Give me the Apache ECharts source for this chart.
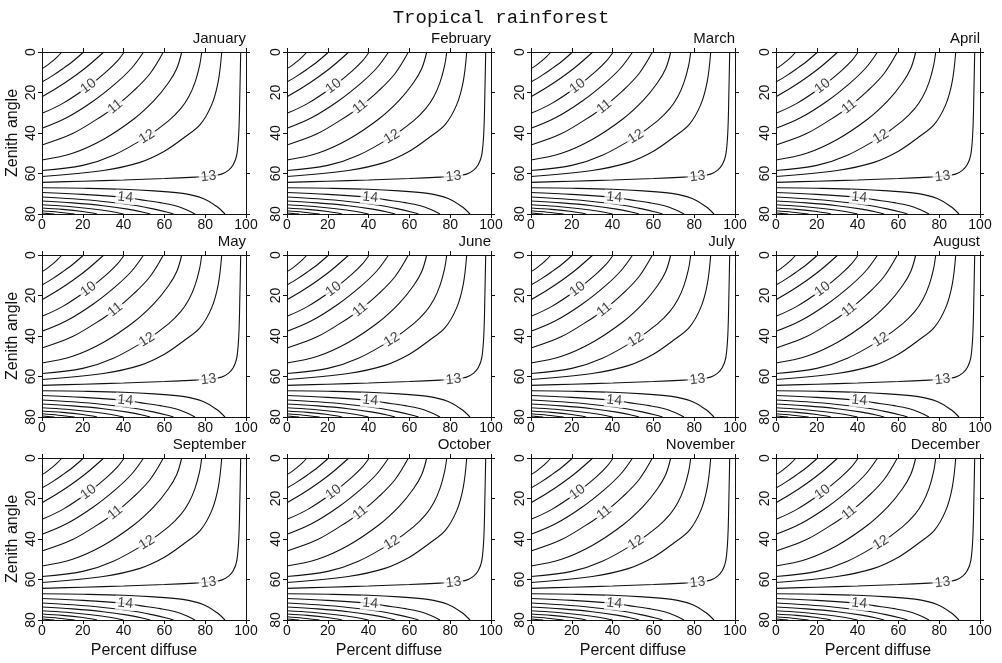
<!DOCTYPE html>
<html><head><meta charset="utf-8">
<script src="https://cdn.jsdelivr.net/npm/echarts@6/dist/echarts.min.js"></script>
<style>html,body{margin:0;padding:0;background:#fff}#c{width:1002px;height:663px}</style>
</head><body><div id="c"></div>
<script>
// ---------------- data ----------------
const chartTitle = 'Tropical rainforest';
const months = ['January','February','March','April','May','June','July','August','September','October','November','December'];
const xTitle = 'Percent diffuse';
const yTitle = 'Zenith angle';
const xTicks = [0, 20, 40, 60, 80, 100];
const yTicks = [0, 20, 40, 60, 80];

// contour lines, [percent diffuse, zenith angle]
const c8_5  = [[0,8.2],[2.5,6.6],[5,4.6],[7.5,2.4],[9.8,0]];
const c9    = [[0,14.8],[5,11.8],[10,8.4],[15,4.7],[20.4,0]];
const c9_5  = [[0,22.1],[8,17.3],[15,12.6],[22,7.3],[30.3,0]];
const c10   = [[0,30.3],[10,25.5],[22.8,16.9],[32,9.3],[37,4.4],[40.3,0]];
const c10_5 = [[0,37.7],[12,32.5],[25,24.3],[36,15.6],[44,7.9],[49.8,0]];
const c11   = [[0,45.9],[15,40.3],[30,31.2],[35.9,27],[45,19.1],[53,10.6],[59.5,0]];
const c11_5 = [[0,53.3],[15,50],[30,43.2],[45,33.1],[55,23.9],[62,15.2],[66,8.3],[68.5,0]];
const c12   = [[0,58.5],[20,56],[35,51],[51.4,41.8],[62,34],[68,28],[72,22],[75,15],[77.2,7],[78.3,0]];
const c12_5 = [[0,61.5],[30,58.5],[48,54.5],[60,49],[70,42],[77.5,35.9],[83.2,26],[86.4,14.5],[88.1,0]];
const c13   = [[0,64.4],[20,63.8],[40,63.2],[60,62.5],[75,61.8],[82,61.3],[88,60.3],[91.5,58.3],[93.8,55.6],[95.5,50.7],[96.5,39],[97,20],[97.4,0]];
const c13_5 = [[0,67],[20,67.3],[40,67.8],[55,68.6],[69,69.8],[79,72.3],[85.5,76.2],[89.7,80]];
const c14   = [[0,69.4],[20,70.3],[40.8,71.8],[48,72.9],[58,74.4],[65,75.8],[70.5,77.8],[75,80]];
const c14_5 = [[0,71.6],[15,72.5],[30,73.8],[45,75.7],[55,77.6],[61,79],[64.5,80]];
const c15   = [[0,73.6],[15,74.5],[30,75.9],[42,77.6],[49,79],[53,80]];
const c15_5 = [[0,75.4],[12,76.2],[24,77.4],[34,78.8],[40,80]];
const c16   = [[0,77],[10,77.7],[20,78.8],[27,80]];
const c16_5 = [[0,78.4],[8,79.1],[16,80]];
const c17   = [[0,79.5],[3,79.8],[6,80]];

const contours = [c8_5,c9,c9_5,c10,c10_5,c11,c11_5,c12,c12_5,c13,c13_5,c14,c14_5,c15,c15_5,c16,c16_5,c17];

// contour labels: text, the line it sits on, position along it
const labelTexts = ['10','11','12','13','14'];
const labelLines = [c10, c11, c12, c13, c14];
const labelPos = [[22.8,16.9],[35.9,27],[51.4,41.8],[81.6,61.5],[40.8,71.8]];

// ---------------- layout / style ----------------
const colLeft = [42, 287, 531, 776];
const rowTop = [52, 255, 458];
const GW = 204, GH = 162;
const FONT = '"Liberation Sans", Arial, Helvetica, sans-serif';
const INK = '#111';

// label rotation follows the local direction of its contour line
function labelAngle(line, p) {
  const xspan = xTicks[xTicks.length-1] - xTicks[0];
  const yspan = yTicks[yTicks.length-1] - yTicks[0];
  let k = 0, best = Infinity;
  line.forEach((q, j) => { const d = Math.hypot(q[0]-p[0], q[1]-p[1]); if (d < best) { best = d; k = j; } });
  const a = line[Math.max(k-1, 0)], b = line[Math.min(k+1, line.length-1)];
  const dxp = (b[0]-a[0]) / xspan * GW;
  const dyp = (b[1]-a[1]) / yspan * GH; // inverted axis: larger value is lower on screen
  return Math.atan2(-dyp, dxp) * 180 / Math.PI;
}

const grids = [], xAxes = [], yAxes = [], series = [], graphics = [];
months.forEach((m, i) => {
  const r = Math.floor(i/4), c = i % 4;
  grids.push({left: colLeft[c], top: rowTop[r], width: GW, height: GH});
  const axisLine = {show: true, onZero: false, lineStyle: {color: INK, width: 1}};
  const tick = {show: true, inside: false, length: 4, lineStyle: {color: INK, width: 1}};
  const xr = {type: 'value', min: xTicks[0], max: xTicks[xTicks.length-1], interval: xTicks[1]-xTicks[0], splitLine: {show: false}};
  const yr = {type: 'value', min: yTicks[0], max: yTicks[yTicks.length-1], interval: yTicks[1]-yTicks[0], inverse: true, splitLine: {show: false}};
  xAxes.push(Object.assign({}, xr, {gridIndex: i, position: 'bottom', axisLine, axisTick: tick,
    axisLabel: {fontSize: 14, color: INK, fontFamily: FONT, margin: 4},
    name: r === 2 ? xTitle : '', nameLocation: 'middle', nameGap: 23,
    nameTextStyle: {fontSize: 16, color: INK, fontFamily: FONT}}));
  xAxes.push(Object.assign({}, xr, {gridIndex: i, position: 'top', axisLine, axisTick: tick, axisLabel: {show: false}}));
  yAxes.push(Object.assign({}, yr, {gridIndex: i, position: 'left', axisLine, axisTick: tick,
    axisLabel: {fontSize: 14, color: INK, fontFamily: FONT, rotate: 90, margin: 4},
    name: c === 0 ? yTitle : '', nameLocation: 'middle', nameGap: 21, nameRotate: 90,
    nameTextStyle: {fontSize: 16, color: INK, fontFamily: FONT}}));
  yAxes.push(Object.assign({}, yr, {gridIndex: i, position: 'right', axisLine, axisTick: tick, axisLabel: {show: false}}));

  contours.forEach(line => {
    series.push({type: 'line', xAxisIndex: 2*i, yAxisIndex: 2*i, data: line, smooth: 0.35,
      showSymbol: false, symbol: 'none', silent: true, animation: false, clip: true,
      lineStyle: {color: INK, width: 1.1}, z: 2});
  });
  series.push({type: 'scatter', xAxisIndex: 2*i, yAxisIndex: 2*i, silent: true, animation: false,
    symbolSize: 1, itemStyle: {color: 'rgba(255,255,255,0)'}, z: 5,
    data: labelPos.map((p, k) => ({value: p, label: {show: true, formatter: labelTexts[k], rotate: labelAngle(labelLines[k], p)}})),
    label: {show: true, position: 'inside', color: INK, fontSize: 14, fontFamily: FONT,
      textBorderWidth: 0, textBorderColor: 'transparent', backgroundColor: '#fff', padding: [0, 2]}});

  graphics.push({type: 'text', x: colLeft[c] + GW, y: rowTop[r] - 13,
    style: {text: m, textAlign: 'right', textVerticalAlign: 'middle', fill: INK, font: '15px ' + FONT}});
});

const chart = echarts.init(document.getElementById('c'), null, {renderer: 'canvas'});
chart.setOption({
  backgroundColor: '#fff',
  animation: false,
  title: {text: chartTitle, left: 'center', top: 3,
    textStyle: {fontFamily: '"Liberation Mono", "Courier New", monospace', fontSize: 19, fontWeight: 'normal', color: INK}},
  grid: grids, xAxis: xAxes, yAxis: yAxes, series, graphic: graphics
});
</script></body></html>
